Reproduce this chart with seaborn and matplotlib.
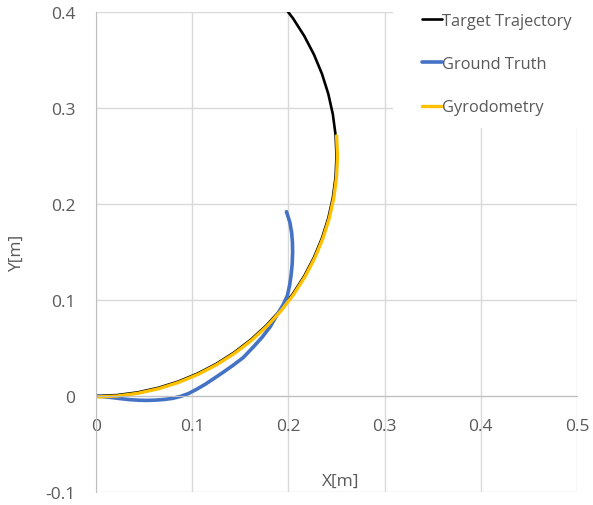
import pandas as pd
import matplotlib
matplotlib.use('Agg')
import matplotlib.pyplot as plt
from matplotlib.patches import Rectangle
import seaborn as sns

# ------------------------------------------------------------
# data
# ------------------------------------------------------------
target_x = [0.0, 0.02179, 0.04341, 0.0647, 0.08551, 0.10565, 0.125, 0.14339, 0.1607,
            0.17678, 0.19151, 0.20479, 0.21651, 0.22658, 0.23492, 0.24148, 0.2462,
            0.24905, 0.25, 0.24905, 0.2462, 0.24148, 0.23492, 0.22658, 0.21651,
            0.20479, 0.19151]
target_y = [0.0, 0.00095, 0.0038, 0.00852, 0.01508, 0.02342, 0.03349, 0.04521, 0.05849,
            0.07322, 0.0893, 0.10661, 0.125, 0.14435, 0.1645, 0.1853, 0.20659,
            0.22821, 0.25, 0.27179, 0.29341, 0.3147, 0.33551, 0.35565, 0.375,
            0.39339, 0.4107]

truth_x = [0.0, 0.007, 0.0146, 0.025, 0.035, 0.045, 0.0527, 0.062, 0.071, 0.080,
           0.088, 0.096, 0.1046, 0.114, 0.123, 0.132, 0.1425, 0.153, 0.163, 0.1725,
           0.181, 0.1885, 0.1945, 0.1989, 0.2012, 0.2027, 0.2039, 0.2044, 0.2042,
           0.2034, 0.2015, 0.198]
truth_y = [0.0, -0.0006, -0.0014, -0.0027, -0.0038, -0.0044, -0.0046, -0.0043, -0.0036, -0.0024,
           -0.0004, 0.0025, 0.0070, 0.0125, 0.0185, 0.0246, 0.032, 0.040, 0.0505, 0.061,
           0.072, 0.085, 0.095, 0.1045, 0.115, 0.125, 0.137, 0.1496, 0.160,
           0.170, 0.181, 0.192]

gyro_x = [0.0, 0.02188, 0.04359, 0.06496, 0.08585, 0.10608, 0.1255, 0.14397, 0.16134,
          0.17748, 0.19228, 0.20561, 0.21737, 0.22748, 0.23586, 0.24245, 0.24719,
          0.25004, 0.251, 0.25012]
gyro_y = [-0.001, -0.00004, 0.00281, 0.00755, 0.01414, 0.02252, 0.03263, 0.04439, 0.05772,
          0.07252, 0.08866, 0.10603, 0.1245, 0.14392, 0.16415, 0.18504, 0.20641,
          0.22812, 0.25, 0.271]

x_ticks = [0, 0.1, 0.2, 0.3, 0.4, 0.5]
y_ticks = [-0.1, 0, 0.1, 0.2, 0.3, 0.4]
x_labels = ['0', '0.1', '0.2', '0.3', '0.4', '0.5']
y_labels = ['-0.1', '0', '0.1', '0.2', '0.3', '0.4']

# name, x, y, colour, width
series = [
    ('Target Trajectory', target_x, target_y, '#000000', 1.9),
    ('Ground Truth', truth_x, truth_y, '#4472C4', 2.6),
    ('Gyrodometry', gyro_x, gyro_y, '#FFC000', 2.4),
]

# ------------------------------------------------------------
# plot
# ------------------------------------------------------------
sns.set_style('white')
plt.rcParams['font.family'] = ['Open Sans', 'DejaVu Sans']
text_col = '#595959'
grid_col = '#D9D9D9'
fs = 12.5

fig = plt.figure(figsize=(5.93, 5.06), dpi=100)
ax = fig.add_axes([96 / 593, 1 - 493 / 506, 481 / 593, 480 / 506])

for name, xs, ys, col, lw in series:
    d = pd.DataFrame({'x': xs, 'y': ys})
    sns.lineplot(data=d, x='x', y='y', sort=False, estimator=None,
                 color=col, linewidth=lw, label=name, ax=ax)

ax.set_xlim(0, 0.5)
ax.set_ylim(-0.1, 0.4)
ax.set_xticks(x_ticks)
ax.set_yticks(y_ticks)
ax.set_xticklabels(x_labels)
ax.set_yticklabels(y_labels)

ax.grid(True, color=grid_col, linewidth=1.0)
ax.set_axisbelow(True)
for s in ['top', 'right']:
    ax.spines[s].set_visible(False)
ax.spines['bottom'].set_position(('data', 0))
ax.spines['bottom'].set_color('#BFBFBF')
ax.spines['left'].set_color('#BFBFBF')

ax.tick_params(axis='both', length=0, labelsize=fs, labelcolor=text_col)
ax.tick_params(axis='x', pad=16)
ax.tick_params(axis='y', pad=15)

ax.set_xlabel('X[m]', fontsize=fs, color=text_col)
ax.set_ylabel('Y[m]', fontsize=fs, color=text_col)
ax.xaxis.set_label_coords(0.508, 0.040)
ax.yaxis.set_label_coords(-0.148, 0.5)

# legend: white block over the top-right corner, entries on top of it
handles, labels = ax.get_legend_handles_labels()
if ax.get_legend() is not None:
    ax.get_legend().remove()
fig.add_artist(Rectangle((393 / 593, 1 - 129 / 506), 200 / 593, 129 / 506,
                         transform=fig.transFigure, facecolor='white',
                         edgecolor='none', zorder=1))
leg = fig.legend(handles, labels, loc='upper left',
                 bbox_to_anchor=(422 / 593, 1 - 14 / 506),
                 fontsize=11.8, handlelength=1.2, handletextpad=0.0,
                 labelspacing=1.66, borderpad=0.0, borderaxespad=0.0,
                 frameon=False)
leg.set_zorder(5)
for t in leg.get_texts():
    t.set_color(text_col)

plt.savefig('out.png', dpi=100)
